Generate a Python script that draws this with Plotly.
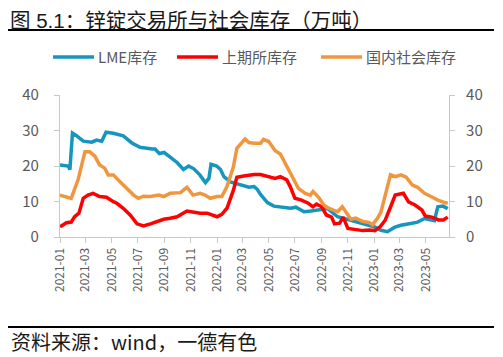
import plotly.graph_objects as go

# LME inventory (10k tonnes)
lme_dates = ["2021-01-01","2021-01-20","2021-01-24","2021-01-30","2021-02-09","2021-02-24","2021-03-16","2021-03-27",
             "2021-04-08","2021-04-18","2021-05-05","2021-05-28","2021-06-17","2021-07-06","2021-08-03","2021-08-10",
             "2021-08-20","2021-08-31","2021-09-14","2021-09-30","2021-10-15","2021-10-27","2021-11-08","2021-11-22",
             "2021-12-05","2021-12-13","2021-12-18","2021-12-31","2022-01-09","2022-01-17","2022-02-01","2022-02-17",
             "2022-03-04","2022-03-16","2022-03-28","2022-04-04","2022-04-12","2022-04-28","2022-05-13","2022-06-05",
             "2022-06-21","2022-07-03","2022-07-22","2022-08-07","2022-08-30","2022-09-15","2022-10-08","2022-10-31",
             "2022-11-16","2022-12-09","2023-01-01","2023-01-17","2023-02-01","2023-02-17","2023-03-04","2023-03-27",
             "2023-04-12","2023-04-28","2023-05-21","2023-05-29","2023-06-10","2023-06-21"]
lme_vals = [20.3,20.0,19.0,29.3,28.5,27.0,26.7,27.3,
            27.0,29.5,29.2,28.5,26.5,25.3,24.8,24.8,
            23.5,23.8,22.5,21.0,19.0,20.0,19.2,17.5,
            15.3,16.5,20.5,20.0,19.0,17.0,15.5,15.0,
            14.3,14.0,14.2,13.5,12.0,9.7,8.7,8.4,
            8.1,8.4,7.1,7.3,7.6,8.0,5.7,5.0,
            4.4,3.7,2.9,1.9,1.5,2.7,3.3,3.8,
            4.2,5.2,4.6,8.5,8.7,8.0]

# SHFE inventory
shfe_dates = ["2021-01-01","2021-01-16","2021-01-27","2021-02-04","2021-02-14","2021-02-24","2021-03-07","2021-03-19",
              "2021-04-03","2021-04-19","2021-05-05","2021-05-13","2021-05-28","2021-06-13","2021-06-29","2021-07-14",
              "2021-07-30","2021-08-14","2021-08-30","2021-09-14","2021-09-30","2021-10-23","2021-11-08","2021-11-23",
              "2021-12-09","2021-12-20","2022-01-01","2022-01-12","2022-01-24","2022-02-08","2022-02-16","2022-03-04",
              "2022-03-28","2022-04-12","2022-05-01","2022-05-16","2022-05-28","2022-06-12","2022-06-20","2022-07-01",
              "2022-07-16","2022-08-01","2022-08-12","2022-08-20","2022-09-01","2022-09-12","2022-09-24","2022-10-01",
              "2022-10-13","2022-10-21","2022-11-01","2022-11-20","2022-12-06","2022-12-22","2023-01-03","2023-01-15",
              "2023-01-27","2023-02-07","2023-02-19","2023-03-10","2023-03-22","2023-04-06","2023-04-22","2023-04-30",
              "2023-05-15","2023-05-31","2023-06-11","2023-06-21"]
shfe_vals = [2.9,4.0,4.2,5.7,6.7,10.9,11.8,12.3,
             11.4,11.2,9.95,9.5,8.1,6.2,3.7,3.1,
             3.7,4.4,5.0,5.3,5.7,7.3,6.9,6.7,
             6.7,6.2,5.7,6.4,8.1,13.2,16.8,17.2,
             17.6,17.6,17.0,16.5,17.0,16.1,14.2,10.9,
             10.4,9.5,8.5,9.3,8.5,6.2,5.6,3.7,
             3.9,5.6,2.4,2.2,1.8,2.0,1.8,2.9,
             4.8,8.1,11.8,12.3,9.9,9.0,7.6,5.9,
             5.6,4.8,4.8,5.6]

# Domestic social inventory
soc_dates = ["2021-01-01","2021-01-12","2021-01-27","2021-02-12","2021-02-28","2021-03-11","2021-03-23","2021-04-03",
             "2021-04-15","2021-04-23","2021-05-05","2021-05-20","2021-06-05","2021-06-21","2021-07-02","2021-07-14",
             "2021-07-30","2021-08-19","2021-08-30","2021-09-14","2021-10-08","2021-10-23","2021-11-06","2021-11-23",
             "2021-12-04","2021-12-16","2022-01-01","2022-01-12","2022-01-24","2022-02-08","2022-02-16","2022-03-07",
             "2022-03-16","2022-03-28","2022-04-12","2022-04-19","2022-05-01","2022-05-09","2022-05-16","2022-05-28",
             "2022-06-12","2022-06-28","2022-07-09","2022-07-25","2022-08-06","2022-08-12","2022-08-25","2022-09-06",
             "2022-09-17","2022-10-08","2022-10-19","2022-10-27","2022-11-08","2022-11-19","2022-12-05","2022-12-20",
             "2022-12-28","2023-01-09","2023-01-17","2023-01-28","2023-02-08","2023-02-20","2023-03-04","2023-03-16",
             "2023-03-31","2023-04-12","2023-04-28","2023-05-13","2023-05-29","2023-06-14","2023-06-21"]
soc_vals = [11.8,11.4,10.9,16.1,24.0,24.0,22.8,20.3,
            19.4,17.5,17.5,15.6,13.7,11.8,10.9,11.5,
            11.4,11.8,11.4,12.3,12.5,14.0,11.8,12.3,
            11.8,10.9,11.4,11.4,14.2,19.8,25.0,27.6,
            26.6,26.4,26.4,27.5,26.9,25.4,24.3,23.4,
            19.8,16.5,13.7,12.3,11.8,12.8,11.2,9.0,
            8.1,7.1,8.5,7.1,5.0,5.3,4.4,4.1,
            3.4,5.3,7.1,12.3,17.5,17.0,17.5,16.9,
            14.6,14.0,12.3,11.4,10.4,9.7,9.5]

names = ["LME库存", "上期所库存", "国内社会库存"]
colors = ["#1696BE", "#FF0000", "#F0963E"]

tick_vals = ["2021-01-01","2021-03-01","2021-05-01","2021-07-01","2021-09-01","2021-11-01",
             "2022-01-01","2022-03-01","2022-05-01","2022-07-01","2022-09-01","2022-11-01",
             "2023-01-01","2023-03-01","2023-05-01"]
tick_text = [d[:7] for d in tick_vals]

FONT = "Noto Sans CJK SC"
TITLE_FONT = "Liberation Sans, Noto Sans CJK SC"
grey = "#595959"
axis_grey = "#C8C8C8"

# the page body has an 8px margin; work in window pixels and convert
OFF = 8
W, H = 503 - OFF, 357 - OFF
PL, PR, PT, PB = 60, 449, 95, 237          # plot box in window pixels
ML, MR, MT, MB = PL - OFF, W - (PR - OFF), PT - OFF, H - (PB - OFF)
pw = W - ML - MR
ph = H - MT - MB
def px_x(x):
    return (x - OFF - ML) / pw
def px_y(y):
    return (H - MB - (y - OFF)) / ph

fig = go.Figure()
fig.add_trace(go.Scatter(x=lme_dates, y=lme_vals, name=names[0], mode="lines",
                         line=dict(color=colors[0], width=3.5)))
fig.add_trace(go.Scatter(x=shfe_dates, y=shfe_vals, name=names[1], mode="lines",
                         line=dict(color=colors[1], width=3.5)))
fig.add_trace(go.Scatter(x=soc_dates, y=soc_vals, name=names[2], mode="lines",
                         line=dict(color=colors[2], width=3.5), yaxis="y2"))

axis_common = dict(showline=True, linecolor=axis_grey, linewidth=1.2,
                   ticks="outside", ticklen=5, tickcolor=axis_grey, tickwidth=1.2,
                   showgrid=False, zeroline=False)

shapes = [
    dict(type="line", xref="paper", yref="paper", x0=px_x(8), x1=px_x(494),
         y0=px_y(30), y1=px_y(30), line=dict(color="black", width=2)),
    dict(type="line", xref="paper", yref="paper", x0=px_x(8), x1=px_x(494),
         y0=px_y(327), y1=px_y(327), line=dict(color="black", width=2)),
]
annotations = [
    dict(text="图 5.1：锌锭交易所与社会库存（万吨）", x=px_x(9), y=px_y(8),
         xref="paper", yref="paper", showarrow=False, xanchor="left", yanchor="top",
         borderpad=0, font=dict(size=20.5, color="#1a1a1a", family=TITLE_FONT)),
    dict(text="资料来源：wind，一德有色", x=px_x(9), y=px_y(341),
         xref="paper", yref="paper", showarrow=False, xanchor="left", yanchor="middle",
         font=dict(size=20, color="#1a1a1a", family=FONT)),
]

# custom legend (line sample + label)
legend_starts = [53, 177, 321]
for name, col, x0 in zip(names, colors, legend_starts):
    shapes.append(dict(type="line", xref="paper", yref="paper",
                       x0=px_x(x0), x1=px_x(x0 + 41), y0=px_y(57), y1=px_y(57),
                       line=dict(color=col, width=3.5)))
    annotations.append(dict(text=name, x=px_x(x0 + 43), y=px_y(57), xref="paper", yref="paper",
                            showarrow=False, xanchor="left", yanchor="middle",
                            font=dict(size=15, color=grey, family=FONT)))

fig.update_layout(
    width=W, height=H,
    margin=dict(l=ML, r=MR, t=MT, b=MB, autoexpand=False),
    paper_bgcolor="white", plot_bgcolor="white",
    font=dict(family=FONT, color=grey),
    showlegend=False,
    xaxis=dict(type="date", range=["2021-01-01", "2023-06-24"],
               tickvals=tick_vals, ticktext=tick_text, tickangle=-90,
               tickfont=dict(size=12, color=grey), **axis_common),
    yaxis=dict(range=[0, 40], dtick=10, tickfont=dict(size=15, color=grey),
               ticklabelstandoff=12, **axis_common),
    yaxis2=dict(range=[0, 40], dtick=10, overlaying="y", side="right",
                tickfont=dict(size=15, color=grey), ticklabelstandoff=8, **axis_common),
    annotations=annotations,
    shapes=shapes,
)

fig.write_html("out.html")
